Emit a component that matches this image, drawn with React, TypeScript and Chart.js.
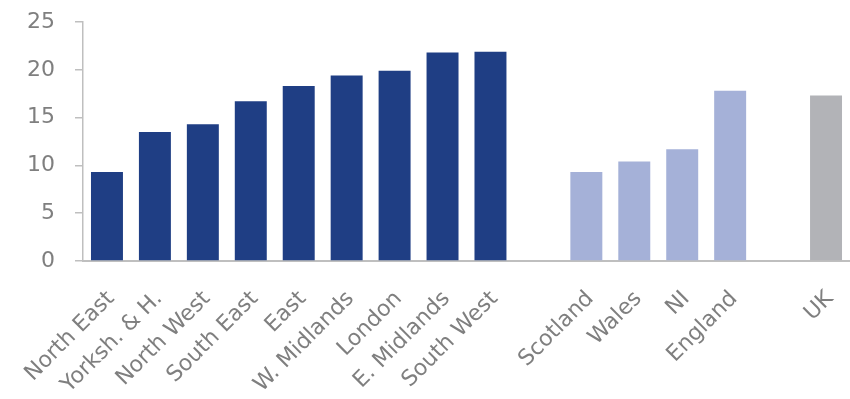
import React, { useEffect, useRef } from "react";
import { Chart, registerables } from "chart.js";

Chart.register(...registerables);

const categories = [
  "North East", "Yorksh. & H.", "North West", "South East", "East",
  "W. Midlands", "London", "E. Midlands", "South West", "",
  "Scotland", "Wales", "NI", "England", "", "UK",
];
const values: (number | null)[] = [
  9.3, 13.5, 14.3, 16.7, 18.3, 19.4, 19.9, 21.8, 21.9, null,
  9.3, 10.4, 11.7, 17.8, null, 17.3,
];
const groups = [
  "region", "region", "region", "region", "region", "region", "region", "region", "region", "gap",
  "nation", "nation", "nation", "nation", "gap", "uk",
];
const yTicks = [0, 5, 10, 15, 20, 25];

const groupColors: Record<string, string> = {
  region: "#1F3E84",
  nation: "#A5B1D8",
  uk: "#B2B3B7",
  gap: "rgba(0,0,0,0)",
};

export default function App() {
  const ref = useRef<HTMLCanvasElement | null>(null);

  useEffect(() => {
    document.body.style.margin = "0";
    if (!ref.current) return;
    const chart = new Chart(ref.current, {
      type: "bar",
      data: {
        labels: categories,
        datasets: [
          {
            data: values,
            backgroundColor: groups.map((g) => groupColors[g]),
            barPercentage: 0.667,
            categoryPercentage: 1,
          },
        ],
      },
      options: {
        responsive: false,
        animation: false,
        layout: { padding: { top: 22, left: 0, right: 0, bottom: 0 } },
        plugins: { legend: { display: false }, tooltip: { enabled: false } },
        scales: {
          x: {
            grid: { display: false, drawTicks: false },
            border: { display: true, color: "#BFBFBF", width: 2 },
            ticks: {
              autoSkip: false,
              maxRotation: 45,
              minRotation: 45,
              padding: 25,
              labelOffset: 4,
              color: "#7F7F7F",
              font: { family: "'DejaVu Sans', sans-serif", size: 22 },
            },
            afterFit: (s: any) => {
              s.height = 138;
              s.paddingRight = 0;
              s.paddingLeft = 0;
              s.paddingTop = 0;
              s.paddingBottom = 0;
            },
          },
          y: {
            min: 0,
            max: 25,
            afterBuildTicks: (s: any) => {
              s.ticks = yTicks.map((v) => ({ value: v }));
            },
            grid: {
              drawOnChartArea: false,
              drawTicks: true,
              tickLength: 8,
              color: "#BFBFBF",
              lineWidth: 1.5,
            },
            border: { display: true, color: "#BFBFBF", width: 1.5 },
            ticks: {
              padding: 20,
              color: "#7F7F7F",
              font: { family: "'DejaVu Sans', sans-serif", size: 22 },
            },
            afterFit: (s: any) => {
              s.width = 83;
              s.paddingTop = 0;
              s.paddingBottom = 0;
            },
          },
        },
      },
    });
    return () => chart.destroy();
  }, []);

  return (
    <div style={{ width: 850, height: 399 }}>
      <canvas ref={ref} width={850} height={399} />
    </div>
  );
}
